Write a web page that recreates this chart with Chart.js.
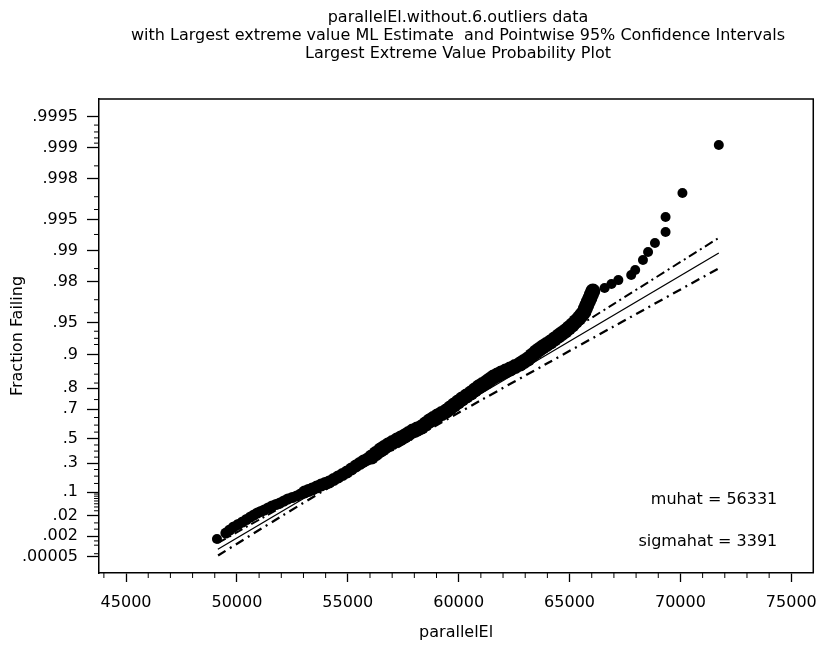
<!DOCTYPE html>
<html>
<head>
<meta charset="utf-8">
<script src="https://cdn.jsdelivr.net/npm/chart.js@4.4.1/dist/chart.umd.min.js"></script>
<style>
  body { margin: 0; background: #fff; }
  canvas { display: block; }
</style>
</head>
<body>
<canvas id="probPlot" width="828" height="651"></canvas>
<script>
const titleLines = [
  'parallelEl.without.6.outliers data',
  'with Largest extreme value ML Estimate  and Pointwise 95% Confidence Intervals',
  'Largest Extreme Value Probability Plot'
];
const muhat = 56331;
const sigmahat = 3391;

// observed points (parallelEl, fraction failing)
const obsX = [49100, 49500, 49675, 49850, 50050, 50250, 50430, 50610, 50765, 50920,
  51075, 51230, 51405, 51580, 51760, 51940, 52115, 52290, 52490, 52690,
  52870, 53050, 53225, 53400, 53600, 53800, 53980, 54160, 54360, 54560,
  54760, 54960, 55160, 55360, 55535, 55710, 55890, 56070, 56270, 56470,
  56645, 56820, 57020, 57220, 57395, 57570, 57750, 57930, 58130, 58330,
  58505, 58680, 58860, 59040, 59240, 59440, 59615, 59790, 59970, 60150,
  60350, 60550, 60725, 60900, 61080, 61260, 61415, 61570, 61745, 61920,
  62120, 62320, 62545, 62770, 62945, 63120, 63300, 63480, 63635, 63790,
  63965, 64140, 64320, 64500, 64655, 64810, 64965, 65120, 65275, 65430,
  65540, 65650, 65715, 65780, 65850, 65920, 65985, 66050,
  66580, 66890, 67200, 67780, 67960, 68310, 68540, 68850, 69330, 69330,
  70090, 71730];
const obsP = [0.00134, 0.00308, 0.0045, 0.0064, 0.00844, 0.01096, 0.01402, 0.01771, 0.02113, 0.02505,
  0.02831, 0.03184, 0.03707, 0.04285, 0.04757, 0.05262, 0.0599, 0.06781, 0.07413, 0.08079,
  0.09026, 0.1003, 0.1083, 0.1166, 0.1281, 0.1402, 0.1497, 0.1594, 0.1762, 0.1938,
  0.212, 0.2307, 0.2539, 0.2776, 0.2978, 0.3182, 0.3346, 0.3511, 0.3801, 0.4089,
  0.4294, 0.4497, 0.4698, 0.4896, 0.5053, 0.5206, 0.5395, 0.5581, 0.5726, 0.5867,
  0.6075, 0.6277, 0.6438, 0.6595, 0.6747, 0.6894, 0.7062, 0.7224, 0.7379, 0.7528,
  0.7668, 0.7802, 0.793, 0.805, 0.8146, 0.8238, 0.8326, 0.841, 0.8474, 0.8536,
  0.8596, 0.8653, 0.8721, 0.8787, 0.885, 0.8908, 0.8987, 0.906, 0.9109, 0.9156,
  0.92, 0.9242, 0.929, 0.9334, 0.937, 0.9403, 0.9441, 0.9476, 0.9515, 0.9551,
  0.958, 0.9606, 0.9636, 0.9663, 0.9688, 0.9711, 0.9733, 0.9753,
  0.9769, 0.9788, 0.9806, 0.9827, 0.9845, 0.9876, 0.98963, 0.99153, 0.99338, 0.99527,
  0.99724, 0.99906];

// ML fit line
const fitX = [49140, 71730];
const fitP = [0.00024, 0.98939];

// pointwise 95% bands
const bandX = [49150, 52000, 55000, 58000, 61000, 64000, 67000, 71700];
const upperP = [0.000736, 0.0394, 0.2569, 0.5768, 0.8043, 0.9181, 0.96715, 0.99238];
const lowerP = [0.000069, 0.01878, 0.1993, 0.5071, 0.7464, 0.8806, 0.94611, 0.98497];

const xTicks = [45000, 50000, 55000, 60000, 65000, 70000, 75000];
const yTickLabels = ['.9995', '.999', '.998', '.995', '.99', '.98', '.95', '.9', '.8', '.7', '.5', '.3', '.1', '.02', '.002', '.00005'];
const yTickProbs = [0.9995, 0.999, 0.998, 0.995, 0.99, 0.98, 0.95, 0.9, 0.8, 0.7, 0.5, 0.3, 0.1, 0.02, 0.002, 0.00005];
const yMinorProbs = [0.9994, 0.9993, 0.9992, 0.9991, 0.9985, 0.997, 0.996, 0.993, 0.985, 0.97, 0.96,
  0.94, 0.93, 0.92, 0.88, 0.85, 0.82, 0.75, 0.65, 0.6, 0.55, 0.45, 0.4, 0.35, 0.25, 0.2, 0.15,
  0.09, 0.08, 0.07, 0.06, 0.05, 0.04, 0.03, 0.01, 0.005, 0.001, 0.0005, 0.0001];

// largest extreme value probability scale
const toZ = p => -Math.log(-Math.log(p));
const pts = (xs, ps) => xs.map((x, i) => ({x: x, y: toZ(ps[i])}));

Chart.defaults.font.family = "'DejaVu Sans', sans-serif";
Chart.defaults.font.size = 16;
Chart.defaults.color = '#000';

const extras = {
  id: 'extras',
  afterDraw(chart) {
    const {ctx, chartArea: a, scales: {x, y}} = chart;
    ctx.save();
    ctx.strokeStyle = '#000';
    ctx.lineWidth = 1.5;
    ctx.beginPath();
    ctx.moveTo(a.left, a.top);
    ctx.lineTo(a.right, a.top);
    ctx.lineTo(a.right, a.bottom);
    ctx.stroke();

    // minor tick marks
    ctx.lineWidth = 1;
    yMinorProbs.forEach(p => {
      const py = y.getPixelForValue(toZ(p));
      ctx.beginPath();
      ctx.moveTo(a.left - 5, py);
      ctx.lineTo(a.left, py);
      ctx.stroke();
    });
    for (let v = 44000; v <= 75000; v += 1000) {
      if (v % 5000 === 0) continue;
      const px = x.getPixelForValue(v);
      ctx.beginPath();
      ctx.moveTo(px, a.bottom);
      ctx.lineTo(px, a.bottom + 5);
      ctx.stroke();
    }

    ctx.fillStyle = '#000';
    ctx.font = "16px 'DejaVu Sans', sans-serif";
    ctx.textAlign = 'center';
    ctx.textBaseline = 'middle';
    titleLines.forEach((t, i) => ctx.fillText(t, 458, 18 + i * 18));

    ctx.textAlign = 'right';
    ctx.fillText('muhat = ' + muhat, a.right - 36, 500);
    ctx.fillText('sigmahat = ' + sigmahat, a.right - 36, 542);
    ctx.restore();
  }
};

new Chart(document.getElementById('probPlot'), {
  type: 'scatter',
  data: {
    datasets: [
      {
        label: 'data',
        data: pts(obsX, obsP),
        backgroundColor: '#000',
        borderWidth: 0,
        pointRadius: c => {
          const v = c.raw ? c.raw.x : 0;
          if (c.dataIndex === 0) return 5;
          if (v < 53000) return 5.5;
          if (v < 56000) return 6.5;
          return v <= 66100 ? 7.5 : 5;
        },
        order: 0
      },
      {
        label: 'ML fit',
        data: pts(fitX, fitP),
        showLine: true,
        borderColor: '#000',
        borderWidth: 1.3,
        pointRadius: 0,
        order: 1
      },
      {
        label: 'upper',
        data: pts(bandX, upperP),
        showLine: true,
        borderColor: '#000',
        borderWidth: 2,
        borderDash: [9, 4, 2, 4],
        tension: 0.3,
        pointRadius: 0,
        order: 1
      },
      {
        label: 'lower',
        data: pts(bandX, lowerP),
        showLine: true,
        borderColor: '#000',
        borderWidth: 2.3,
        borderDash: [9, 5, 2, 5],
        tension: 0.3,
        pointRadius: 0,
        order: 1
      }
    ]
  },
  options: {
    responsive: false,
    animation: false,
    layout: { padding: { top: 99, right: 3, left: 0, bottom: 0 } },
    plugins: {
      legend: { display: false },
      tooltip: { enabled: false }
    },
    scales: {
      x: {
        type: 'linear',
        min: 43780,
        max: 75990,
        afterBuildTicks: s => { s.ticks = xTicks.map(v => ({value: v})); },
        afterFit: s => { s.height = 78; },
        ticks: {
          autoSkip: false,
          maxRotation: 0,
          padding: 11,
          callback: v => String(v)
        },
        grid: { drawOnChartArea: false, tickLength: 9, tickWidth: 1.3, tickColor: '#000' },
        border: { color: '#000', width: 1.5 },
        title: { display: true, text: 'parallelEl', padding: { top: 0, bottom: 9 } }
      },
      y: {
        type: 'linear',
        min: -2.654,
        max: 8.005,
        afterBuildTicks: s => { s.ticks = yTickProbs.map(p => ({value: toZ(p)})); },
        afterFit: s => { s.width = 99; },
        ticks: {
          autoSkip: false,
          padding: 9,
          callback: (v, i) => yTickLabels[i]
        },
        grid: { drawOnChartArea: false, tickLength: 12, tickWidth: 1.3, tickColor: '#000' },
        border: { color: '#000', width: 1.5 },
        title: { display: true, text: 'Fraction Failing', padding: { top: 8, bottom: 0 } }
      }
    }
  },
  plugins: [extras]
});
</script>
</body>
</html>
